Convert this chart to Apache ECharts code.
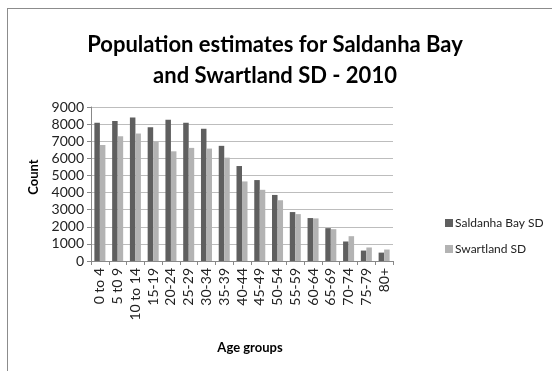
<!DOCTYPE html>
<html>
<head>
<meta charset="utf-8">
<script src="https://cdn.jsdelivr.net/npm/echarts@6/dist/echarts.min.js"></script>
<style>
  html, body { margin: 0; padding: 0; background: #fff; }
  #frame { position: absolute; left: 7px; top: 8px; width: 560px; height: 380px; border: 1px solid #8c8c8c; box-sizing: border-box; }
  #chart { position: absolute; left: 0; top: 0; width: 552px; height: 371px; }
</style>
</head>
<body>
<div id="frame"></div>
<div id="chart"></div>
<script>
// Age groups and population counts per sub-district, 2010
const ageGroups = ['0 to 4', '5 t0 9', '10 to 14', '15-19', '20-24', '25-29', '30-34', '35-39',
  '40-44', '45-49', '50-54', '55-59', '60-64', '65-69', '70-74', '75-79', '80+'];
const saldanhaBay = [8080, 8180, 8390, 7820, 8250, 8080, 7730, 6730, 5550, 4730, 3860, 2860, 2510, 1920, 1140, 610, 490];
const swartland   = [6780, 7290, 7450, 6980, 6410, 6610, 6570, 6040, 4650, 4160, 3550, 2740, 2490, 1860, 1450, 790, 670];
const countTicks = { min: 0, max: 9000, interval: 1000 };

const font = 'Lato, "Open Sans", sans-serif';
const chart = echarts.init(document.getElementById('chart'), null, { renderer: 'canvas' });
chart.setOption({
  animation: false,
  color: ['#5f5f5f', '#b3b3b3'],
  title: {
    text: 'Population estimates for Saldanha Bay\nand Swartland SD - 2010',
    left: 270, top: 24, textAlign: 'center',
    textStyle: { fontFamily: font, fontSize: 22, fontWeight: 'bold', color: '#000', lineHeight: 31 }
  },
  legend: {
    orient: 'vertical', left: 440, top: 212, itemGap: 14,
    itemWidth: 8, itemHeight: 8, icon: 'rect',
    textStyle: { fontFamily: font, fontSize: 12, color: '#222', padding: [0, 0, 0, -3] },
    data: ['Saldanha Bay SD', 'Swartland SD']
  },
  grid: { left: 91, right: 159, top: 107, bottom: 110 },
  xAxis: {
    type: 'category', data: ageGroups,
    name: 'Age groups', nameLocation: 'middle', nameGap: 80,
    nameTextStyle: { fontFamily: font, fontSize: 13, fontWeight: 'bold', color: '#000', padding: [0, 0, 0, 16] },
    axisLine: { lineStyle: { color: '#888' } },
    axisTick: { show: true, length: 4, lineStyle: { color: '#888' } },
    axisLabel: { rotate: 90, interval: 0, fontFamily: font, fontSize: 14, color: '#222', margin: 7 }
  },
  yAxis: {
    type: 'value', min: countTicks.min, max: countTicks.max, interval: countTicks.interval,
    name: 'Count', nameLocation: 'middle', nameGap: 48,
    nameTextStyle: { fontFamily: font, fontSize: 13, fontWeight: 'bold', color: '#000', padding: [0, 0, 0, 14] },
    axisLine: { show: true, lineStyle: { color: '#888' } },
    axisTick: { show: true, length: 4, lineStyle: { color: '#888' } },
    splitLine: { lineStyle: { color: '#bdbdbd', width: 1 } },
    axisLabel: { fontFamily: font, fontSize: 14, color: '#222', margin: 7, formatter: v => String(v) }
  },
  series: [
    { name: 'Saldanha Bay SD', type: 'bar', data: saldanhaBay, barGap: '0%', barCategoryGap: '38%' },
    { name: 'Swartland SD', type: 'bar', data: swartland, barGap: '0%', barCategoryGap: '38%' }
  ]
});
</script>
</body>
</html>
